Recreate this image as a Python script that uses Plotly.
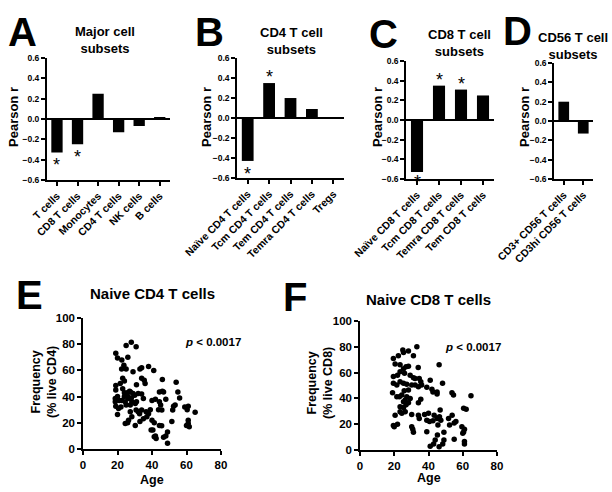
import plotly.graph_objects as go

W, H = 612, 492

# ---------------- data ----------------
a_cats = ["T cells", "CD8 T cells", "Monocytes", "CD4 T cells", "NK cells", "B cells"]
a_vals = [-0.33, -0.25, 0.25, -0.13, -0.07, 0.02]
a_sig = [True, True, False, False, False, False]

b_cats = ["Naïve CD4 T cells", "Tcm CD4 T cells", "Tem CD4 T cells", "Temra CD4 T cells", "Tregs"]
b_vals = [-0.43, 0.35, 0.20, 0.09, 0.0]
b_sig = [True, True, False, False, False]

c_cats = ["Naïve CD8 T cells", "Tcm CD8 T cells", "Temra CD8 T cells", "Tem CD8 T cells"]
c_vals = [-0.53, 0.35, 0.31, 0.25]
c_sig = [True, True, True, False]

d_cats = ["CD3+ CD56 T cells", "CD3hi CD56 T cells"]
d_vals = [0.20, -0.13]
d_sig = [False, False]

e_age = [28, 30.8, 25, 19, 20, 22.5, 26, 23.7, 25, 22.4, 29, 33, 34, 38, 41, 19, 21.6, 23, 24, 34,
         35.5, 31, 36, 46, 54, 55, 56, 46, 46.7, 44.3, 19, 20, 18.7, 21, 24, 25.6, 27.5, 29, 30, 32,
         34, 35, 22.5, 24.5, 26.4, 28.3, 30.3, 27.4, 25, 19, 20.6, 22, 18.7, 30.8, 32, 34, 36.6, 39, 38, 35,
         37, 40, 42, 44.3, 45, 48, 43.8, 45.7, 40, 41.3, 27.4, 28.3, 26.4, 24.5, 25.9, 20, 52.5, 53.4, 52, 51.5,
         59, 61, 60.4, 65, 61, 61, 60, 61.6, 44.3, 45.6, 41.3, 42.4, 42, 46.7, 48, 49, 49, 30.3, 33, 32.8,
         39.5, 40.5, 23, 26, 28, 31, 24, 27]
e_freq = [81.5, 78, 79, 73, 69.5, 68, 70, 64, 61, 61, 59, 61, 62, 63, 60, 48.5, 50, 54, 52, 54,
          52.5, 49, 50, 53, 51, 43.6, 39, 44, 43.6, 43.6, 45, 40, 38.6, 37, 43, 43, 43.6, 42.4, 41, 42.4,
          42, 38.6, 37, 36, 38.6, 36, 34.8, 33.5, 33.5, 32.7, 31, 32, 36, 29.7, 28.4, 29.7, 28.4, 30, 27, 23,
          24.6, 37, 38, 36, 33.5, 38, 30, 29.7, 22, 20, 28.4, 24.6, 22, 19.5, 20, 26.4, 32.7, 33.5, 29.7, 21,
          32, 32.7, 30, 28, 22, 19.5, 18, 17, 18, 17.8, 9.4, 8, 10, 9, 10, 13, 4.3, 18, 21, 27,
          14.5, 14.5, 46, 40, 39, 36, 40, 44]

f_age = [33.2, 19.5, 22.4, 25, 25.4, 28.3, 31.2, 20.5, 23.4, 25.4, 26.9, 28.3, 34, 46.2, 19.5, 21.9, 23.4, 26, 29.3, 31.2,
         32.2, 34.6, 35.5, 41, 48.2, 19.5, 21.5, 23.4, 25.4, 27.3, 30.2, 32.2, 34.1, 36, 39, 42, 45, 45, 42.6, 53.7,
         54.6, 64.8, 19, 21.5, 23, 24.4, 27.3, 29.3, 25.8, 28.3, 35.5, 34.1, 23.4, 25.4, 26.9, 24.4, 26.4, 23.4, 20.5, 30.2,
         34.1, 34.6, 37.7, 40, 39, 40.6, 42.6, 43.3, 45, 46.4, 46.8, 47.2, 45.5, 53.8, 51.7, 55, 56, 52.3, 60.5, 62,
         59.5, 60.5, 61, 60, 61, 61, 55, 19.5, 20, 21.9, 30.2, 30.8, 31.2, 39, 41, 43, 43.9, 46.2, 48.3, 49,
         49, 45.2, 26.4, 28.3, 25.4]
f_freq = [80, 71, 73, 77.5, 75.5, 76.7, 73, 66.7, 66, 63, 64.6, 65, 64, 66, 57, 58, 60.7, 59.4, 58, 56,
          55.5, 55.5, 53, 54, 51.7, 51.7, 50.4, 53, 51.7, 51, 50.4, 50.4, 49, 50.4, 48.6, 47, 45, 43.4, 45, 44.4,
          42.6, 42, 44.4, 41.3, 41.3, 42.6, 41.3, 40, 46, 46.5, 39.3, 36.7, 33.6, 33, 35, 28.4, 29.7, 29.7, 27, 27.6,
          27, 24.5, 27.6, 28.4, 23, 22, 22.7, 27, 24.5, 25.8, 31, 23, 19.4, 27, 24.5, 21, 22, 19.4, 32.3, 31.5,
          18, 14, 16, 13, 6.5, 4.6, 8.3, 19, 18, 20, 18, 16, 13.7, 14.2, 3, 4.6, 7.8, 2.6, 4.6, 7.8,
          13.7, 11.6, 38.8, 36.7, 37.5]

bar_ticks = [-0.6, -0.4, -0.2, 0.0, 0.2, 0.4, 0.6]
scat_xticks = [0, 20, 40, 60, 80]
scat_yticks = [0, 20, 40, 60, 80, 100]

FONT = "Liberation Sans"


def dx(x0, x1):
    return [x0 / W, x1 / W]


def dy(top, bottom):
    return [1 - bottom / H, 1 - top / H]


fig = go.Figure()

panels = [
    (a_cats, a_vals, a_sig, "", dx(46.7, 170), dy(58, 180)),
    (b_cats, b_vals, b_sig, "2", dx(237, 344), dy(58, 178)),
    (c_cats, c_vals, c_sig, "3", dx(406, 494), dy(61, 179)),
    (d_cats, d_vals, d_sig, "4", dx(554, 593), dy(63, 179)),
]

annotations = []
for cats, vals, sig, s, xd, yd in panels:
    fig.add_trace(go.Bar(x=cats, y=vals, xaxis="x" + s, yaxis="y" + s,
                         marker=dict(color="black", line=dict(width=0)), width=0.55,
                         showlegend=False))
    fig.layout["xaxis" + s] = dict(
        domain=xd, anchor="y" + s, automargin=False, showline=True, linecolor="black", linewidth=1.5,
        ticks="outside", ticklen=4, tickwidth=1.5, tickcolor="black", tickangle=-45,
        tickfont=dict(family=FONT, size=10.5, color="black", weight="bold"),
        showgrid=False, zeroline=False)
    fig.layout["yaxis" + s] = dict(
        domain=yd, anchor="x" + s, automargin=False, range=[-0.601, 0.601], tickvals=bar_ticks,
        tickformat=".1f", showline=True, linecolor="black", linewidth=1.5, ticks="outside", ticklen=4,
        tickwidth=1.5, tickcolor="black", showgrid=False, zeroline=True, zerolinecolor="black",
        zerolinewidth=1.5, tickfont=dict(family=FONT, size=8.5, color="black", weight="bold"))
    for c, v, sg in zip(cats, vals, sig):
        if sg:
            annotations.append(dict(
                x=c, y=v, xref="x" + s, yref="y" + s, text="*", showarrow=False,
                yanchor="top" if v < 0 else "bottom", yshift=(-1 if v > -0.5 else 2) if v < 0 else -6,
                font=dict(family=FONT, size=18, color="black")))

# scatter panels
for age, freq, s, xd, yd in [(e_age, e_freq, "5", dx(83, 221), dy(318, 449)),
                             (f_age, f_freq, "6", dx(360, 497), dy(321, 450))]:
    fig.add_trace(go.Scatter(x=age, y=freq, mode="markers", xaxis="x" + s, yaxis="y" + s,
                             marker=dict(color="black", size=5.5), showlegend=False))
    fig.layout["xaxis" + s] = dict(
        domain=xd, anchor="y" + s, automargin=False, range=[0, 80], tickvals=scat_xticks, showline=True,
        linecolor="black", linewidth=1.5, ticks="outside", ticklen=4, tickwidth=1.5,
        tickcolor="black", showgrid=False, zeroline=False,
        tickfont=dict(family=FONT, size=11.5, color="black", weight="bold"))
    fig.layout["yaxis" + s] = dict(
        domain=yd, anchor="x" + s, automargin=False, range=[0, 100], tickvals=scat_yticks, showline=True,
        linecolor="black", linewidth=1.5, ticks="outside", ticklen=4, tickwidth=1.5,
        tickcolor="black", showgrid=False, zeroline=False,
        tickfont=dict(family=FONT, size=11.5, color="black", weight="bold"))


def txt(x, y, text, size, angle=0, xanchor="center", yanchor="middle"):
    annotations.append(dict(x=x / W, y=1 - y / H, xref="paper", yref="paper", text=text,
                            showarrow=False, textangle=angle, xanchor=xanchor, yanchor=yanchor,
                            font=dict(family=FONT, size=size, color="black", weight="bold")))


# panel letters
for letter, x, y in [("A", 22, 32), ("B", 209, 32), ("C", 383, 34), ("D", 517, 31),
                     ("E", 29, 295), ("F", 295, 297)]:
    txt(x, y, letter, 40)

# panel titles
txt(105, 40, "Major cell<br>subsets", 13)
txt(291, 41, "CD4 T cell<br>subsets", 13)
txt(459, 43, "CD8 T cell<br>subsets", 13)
txt(573, 46, "CD56 T cell<br>subsets", 13)
txt(152, 293, "Naive CD4 T cells", 15)
txt(429, 299, "Naive CD8 T cells", 15)

# y-axis titles
for x in [13, 206, 377, 524]:
    txt(x, 117, "Pearson r", 13, angle=-90)
txt(44, 382, "Frequency<br>(% live CD4)", 12.5, angle=-90)
txt(320, 383, "Frequency<br>(% live CD8)", 12.5, angle=-90)
txt(152, 480, "Age", 12.5)
txt(429, 478, "Age", 12.5)

# p-value notes
annotations.append(dict(x=58, y=82, xref="x5", yref="y5", text="<i>p</i> < 0.0017", showarrow=False,
                        xanchor="left", yanchor="middle",
                        font=dict(family=FONT, size=11.5, color="black", weight="bold")))
annotations.append(dict(x=48.5, y=80, xref="x6", yref="y6", text="<i>p</i> < 0.0017", showarrow=False,
                        xanchor="left", yanchor="middle",
                        font=dict(family=FONT, size=11.5, color="black", weight="bold")))

fig.update_layout(template="none", width=W, height=H, autosize=False,
                  margin=dict(l=0, r=0, t=0, b=0, autoexpand=False),
                  paper_bgcolor="white", plot_bgcolor="white", annotations=annotations,
                  bargap=0.45, font=dict(family=FONT, color="black"), showlegend=False)

fig.write_html("out.html", config={"displayModeBar": False},
               post_script="document.body.style.margin='0px';")
